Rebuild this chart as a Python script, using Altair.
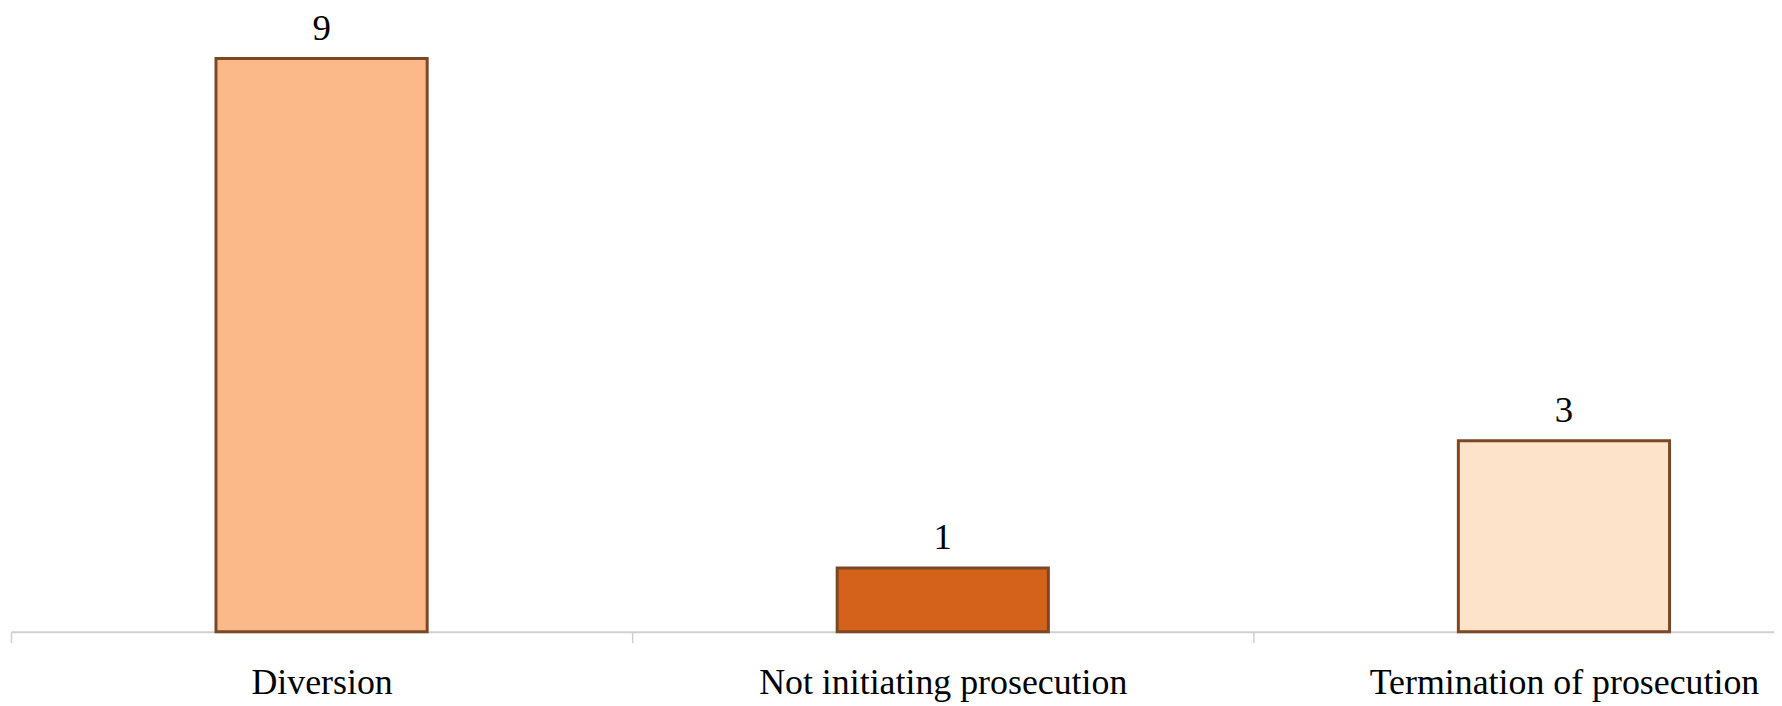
import altair as alt
import pandas as pd

categories = ["Diversion", "Not initiating prosecution", "Termination of prosecution"]
values = [9, 1, 3]
fills = ["#FBB98A", "#D4621A", "#FDE3CA"]

df = pd.DataFrame({"category": categories, "value": values, "fill": fills})

x = alt.X("category:N", sort=categories, title=None,
          scale=alt.Scale(paddingInner=0, paddingOuter=0, range=[0, 1872]),
          axis=alt.Axis(labelAngle=0, labelFont="Liberation Serif", labelFontSize=36,
                        labelColor="#000000", labelPadding=23, tickBand="extent",
                        tickSize=11, tickColor="#d0d0d0", tickWidth=1.5,
                        domainColor="#d0d0d0", domainWidth=2, labelLimit=600))
y = alt.Y("value:Q", title=None, scale=alt.Scale(domain=[0, 9.77], nice=False), axis=None)

bars = alt.Chart(df).mark_bar(width=alt.RelativeBandSize(0.34), stroke="#7a4826", strokeWidth=3).encode(
    x=x, y=y, fill=alt.Fill("fill:N", scale=None)
)
labels = alt.Chart(df).mark_text(baseline="bottom", dy=-11, font="Liberation Serif",
                                 fontSize=37, color="#000000").encode(
    x=alt.X("category:N", sort=categories), y=y, text="value:Q"
)

chart = (bars + labels).properties(
    width=1771, height=625,
    autosize=alt.AutoSizeParams(type="none"),
    padding={"left": 3, "top": 0, "right": 0, "bottom": 72},
).configure(background="#ffffff").configure_view(stroke=None)

chart.save("out.html", embed_options={"renderer": "svg", "actions": False})
